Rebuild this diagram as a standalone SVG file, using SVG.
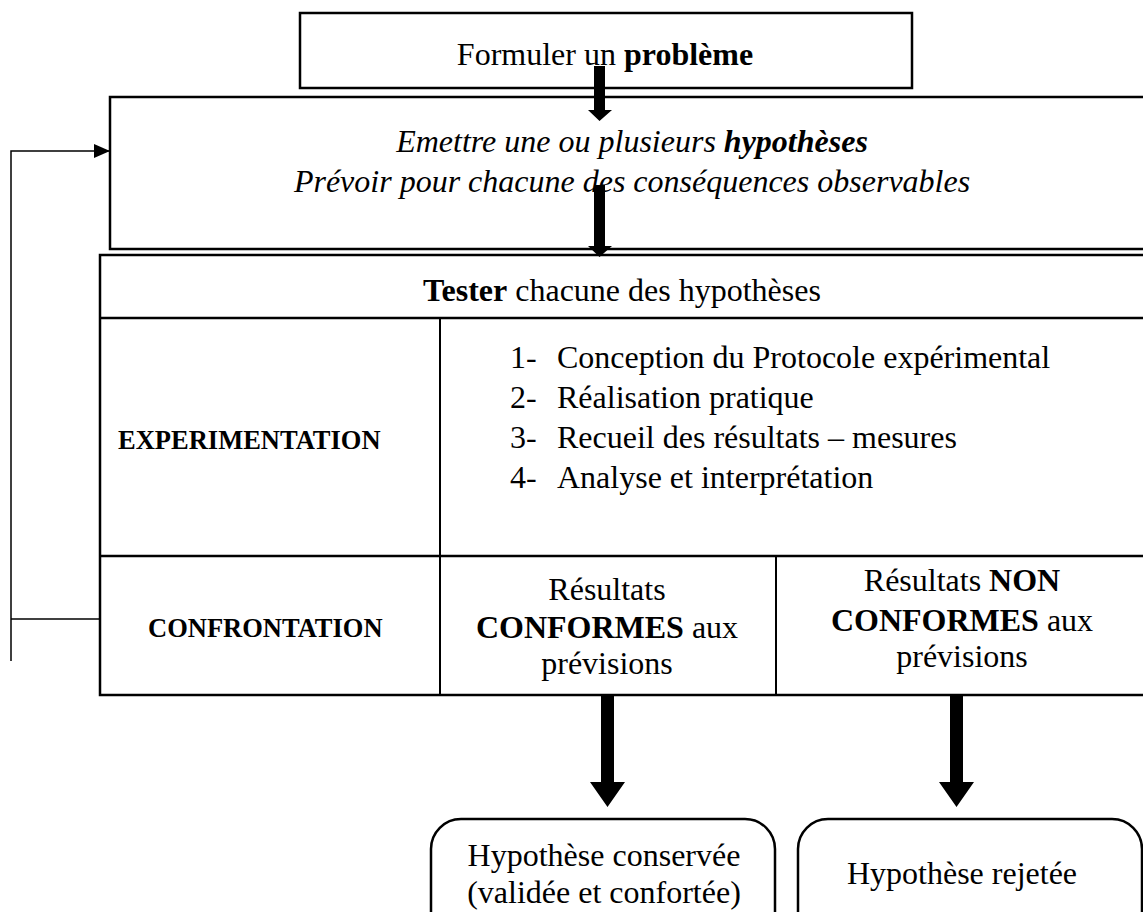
<svg xmlns="http://www.w3.org/2000/svg" width="1143" height="912" viewBox="0 0 1143 912">
<defs>
<style>
.box{fill:#fff;stroke:#000;stroke-width:2.5}
.ln{stroke:#000;stroke-width:2.5;fill:none}
.thin{stroke:#000;stroke-width:1.5;fill:none}
.t{font-family:"Liberation Serif","Times New Roman",serif;font-size:32px;fill:#000}
.i{font-style:italic}
.b{font-weight:bold}
.s{font-family:"Liberation Serif","Times New Roman",serif;font-size:26.5px;font-weight:bold;fill:#000}
.big{fill:#000}
</style>
<marker id="ah" markerWidth="16" markerHeight="14" refX="15" refY="7" orient="auto" markerUnits="userSpaceOnUse">
<path d="M0,0 L16,7 L0,14 Z" fill="#000"/>
</marker>
</defs>
<rect width="1143" height="912" fill="#fff"/>

<g id="probleme">
<rect class="box" x="300" y="13" width="612" height="75"/>
<text class="t" x="605" y="65" text-anchor="middle">Formuler un <tspan class="b">problème</tspan></text>
</g>

<g id="hypotheses">
<rect class="box" x="110" y="97" width="1048" height="152"/>
<text class="t i" x="632" y="152" text-anchor="middle">Emettre une ou plusieurs <tspan class="b">hypothèses</tspan></text>
<text class="t i" x="632" y="192" text-anchor="middle">Prévoir pour chacune des conséquences observables</text>
</g>

<g id="tableau">
<rect class="box" x="100" y="255" width="1050" height="440"/>
<line class="ln" x1="100" y1="318" x2="1150" y2="318"/>
<line class="ln" x1="100" y1="556" x2="1150" y2="556"/>
<line class="thin" x1="440" y1="318" x2="440" y2="695" style="stroke-width:2"/>
<line class="thin" x1="776" y1="556" x2="776" y2="695" style="stroke-width:2"/>
</g>

<g id="tester">
<text class="t" x="622" y="301" text-anchor="middle"><tspan class="b">Tester</tspan> chacune des hypothèses</text>
</g>

<g id="experimentation">
<text class="s" x="118" y="449">EXPERIMENTATION</text>
</g>

<g id="etapes">
<text class="t" x="510" y="368">1-</text>
<text class="t" x="557" y="368">Conception du Protocole expérimental</text>
<text class="t" x="510" y="408">2-</text>
<text class="t" x="557" y="408">Réalisation pratique</text>
<text class="t" x="510" y="448">3-</text>
<text class="t" x="557" y="448">Recueil des résultats – mesures</text>
<text class="t" x="510" y="488">4-</text>
<text class="t" x="557" y="488">Analyse et interprétation</text>
</g>

<g id="confrontation">
<text class="s" x="148" y="637">CONFRONTATION</text>
</g>

<g id="conformes">
<text class="t" x="607" y="600" text-anchor="middle">Résultats</text>
<text class="t" x="607" y="638" text-anchor="middle"><tspan class="b">CONFORMES</tspan> aux</text>
<text class="t" x="607" y="674" text-anchor="middle">prévisions</text>
</g>

<g id="non-conformes">
<text class="t" x="962" y="591" text-anchor="middle">Résultats <tspan class="b">NON</tspan></text>
<text class="t" x="962" y="631" text-anchor="middle"><tspan class="b">CONFORMES</tspan> aux</text>
<text class="t" x="962" y="667" text-anchor="middle">prévisions</text>
</g>

<g id="conservee">
<rect class="box" x="431" y="819" width="344" height="130" rx="30" ry="30"/>
<text class="t" x="604" y="866" text-anchor="middle">Hypothèse conservée</text>
<text class="t" x="604" y="903" text-anchor="middle">(validée et confortée)</text>
</g>

<g id="rejetee">
<rect class="box" x="798" y="819" width="344" height="130" rx="30" ry="30"/>
<text class="t" x="962" y="884" text-anchor="middle">Hypothèse rejetée</text>
</g>

<g id="connecteurs">
<polygon class="big" points="594,66 605,66 605,110 612,110 599.5,121 588,110 594,110"/>
<polygon class="big" points="594,185 605,185 605,246 612,246 599.5,257 588,246 594,246"/>
<polygon class="big" points="601,695 614,695 614,782 625,782 607.5,807 590,782 601,782"/>
<polygon class="big" points="950,695 963,695 963,782 974,782 956.5,807 939,782 950,782"/>
<polyline class="thin" points="11,661 11,151 109,151" marker-end="url(#ah)"/>
<line class="thin" x1="11" y1="619" x2="100" y2="619"/>
</g>
</svg>
